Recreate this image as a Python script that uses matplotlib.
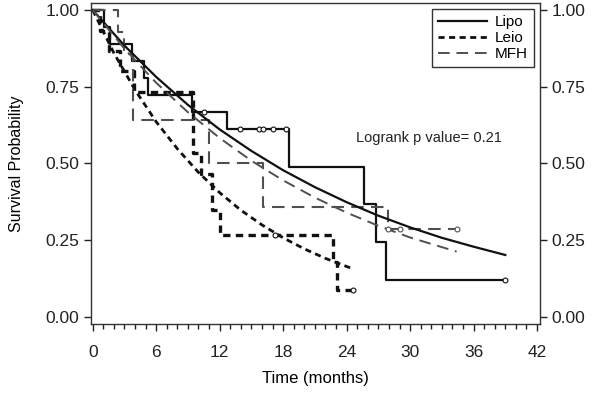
import matplotlib
matplotlib.use("Agg")
import matplotlib.pyplot as plt
from matplotlib.ticker import MultipleLocator, FixedLocator

plt.rcParams['font.family'] = ['Liberation Sans', 'DejaVu Sans']

# ---- Kaplan-Meier step data ----
lipo_t = [0, 1.1, 1.6, 3.7, 4.85, 5.2, 9.4, 12.7, 18.6, 25.6, 26.8, 27.7, 39.0]
lipo_s = [1.0, 0.944, 0.889, 0.833, 0.778, 0.722, 0.667, 0.611, 0.489, 0.367, 0.244, 0.122, 0.122]
lipo_cens_t = [10.5, 13.9, 15.7, 16.1, 17.0, 18.3, 39.0]
lipo_cens_s = [0.667, 0.611, 0.611, 0.611, 0.611, 0.611, 0.122]

leio_t = [0, 0.7, 1.5, 2.6, 3.9, 9.5, 10.2, 11.3, 12.0, 22.7, 23.1, 24.65]
leio_s = [1.0, 0.933, 0.867, 0.8, 0.733, 0.533, 0.467, 0.35, 0.267, 0.178, 0.089, 0.089]
leio_cens_t = [17.25, 24.65]
leio_cens_s = [0.267, 0.089]

mfh_t = [0, 2.4, 3.0, 3.8, 11.0, 16.1, 27.9, 34.4]
mfh_s = [1.0, 0.929, 0.857, 0.643, 0.5, 0.357, 0.286, 0.286]
mfh_cens_t = [27.9, 29.0, 34.4]
mfh_cens_s = [0.286, 0.286, 0.286]

# ---- fitted (parametric) curves ----
lipo_fit_t = [0, 3, 6, 9, 12, 15, 18, 21, 24, 27, 30, 33, 36, 39]
lipo_fit_s = [1.0, 0.884, 0.782, 0.691, 0.611, 0.541, 0.478, 0.423, 0.374, 0.330, 0.292, 0.258, 0.229, 0.202]

leio_fit_t = [0, 2, 4, 6, 8, 10, 12, 14, 16, 18, 20, 22, 24.65]
leio_fit_s = [1.0, 0.860, 0.740, 0.636, 0.548, 0.471, 0.405, 0.348, 0.300, 0.258, 0.222, 0.191, 0.156]

mfh_fit_t = [0, 3, 6, 9, 12, 15, 18, 21, 24, 27, 30, 34.4]
mfh_fit_s = [1.0, 0.874, 0.763, 0.667, 0.583, 0.509, 0.445, 0.389, 0.340, 0.297, 0.259, 0.213]

x_ticks = [0, 6, 12, 18, 24, 30, 36, 42]
y_ticks = [0.0, 0.25, 0.5, 0.75, 1.0]
y_tick_labels = ["0.00", "0.25", "0.50", "0.75", "1.00"]

fig = plt.figure(figsize=(6.01, 4.01), dpi=100)
ax = fig.add_axes([91/601, 1-324/401, (540-91)/601, (324-3)/401])

blk = '#111111'
gry = '#505050'
leio_dash = (0, (2.2, 1.6))
mfh_dash = (0, (6, 3.5))

# steps
ax.step(lipo_t, lipo_s, where='post', color=blk, lw=1.6)
ax.step(leio_t, leio_s, where='post', color=blk, lw=2.4, linestyle=leio_dash)
ax.step(mfh_t, mfh_s, where='post', color=gry, lw=1.5, linestyle=mfh_dash)

# fits
ax.plot(lipo_fit_t, lipo_fit_s, color=blk, lw=1.6, label='Lipo')
ax.plot(leio_fit_t, leio_fit_s, color=blk, lw=2.0, linestyle=leio_dash, label='Leio')
ax.plot(mfh_fit_t, mfh_fit_s, color=gry, lw=1.4, linestyle=mfh_dash, label='MFH')

# censor marks
ax.plot(lipo_cens_t, lipo_cens_s, 'o', ms=3.5, mfc='white', mec=blk, mew=0.8)
ax.plot(leio_cens_t, leio_cens_s, 'o', ms=3.5, mfc='white', mec=blk, mew=0.8)
ax.plot(mfh_cens_t, mfh_cens_s, 'o', ms=3.5, mfc='white', mec=gry, mew=0.8)

ax.set_xlim(-0.16, 42.28)
ax.set_ylim(-0.0228, 1.0228)
ax.xaxis.set_major_locator(FixedLocator(x_ticks))
ax.xaxis.set_minor_locator(MultipleLocator(1))
ax.set_xticklabels([str(v) for v in x_ticks])
ax.set_yticks(y_ticks)
ax.set_yticklabels(y_tick_labels)
ax.tick_params(axis='both', which='major', direction='out', length=5, width=1, labelsize=12.5, colors='#222222')
ax.tick_params(axis='x', which='minor', direction='out', length=3.5, width=1, colors='#222222')
ax.tick_params(axis='y', which='both', right=True, labelright=True)
ax.tick_params(axis='x', pad=10)
for sp in ax.spines.values():
    sp.set_color('#333333')
    sp.set_linewidth(1)

ax.set_xlabel('Time (months)', fontsize=12, labelpad=8)
ax.set_ylabel('Survival Probability', fontsize=11.5, labelpad=15)

ax.text(31.8, 0.583, 'Logrank p value= 0.21', fontsize=10.5, ha='center', va='center', color='#222222')

leg = ax.legend(loc='upper right', fontsize=11, frameon=True, fancybox=False,
                edgecolor='black', handlelength=3.2, handletextpad=0.5,
                labelspacing=0.12, borderpad=0.4, borderaxespad=0.4)
leg.get_frame().set_linewidth(1)

fig.savefig('out.png', dpi=100)
